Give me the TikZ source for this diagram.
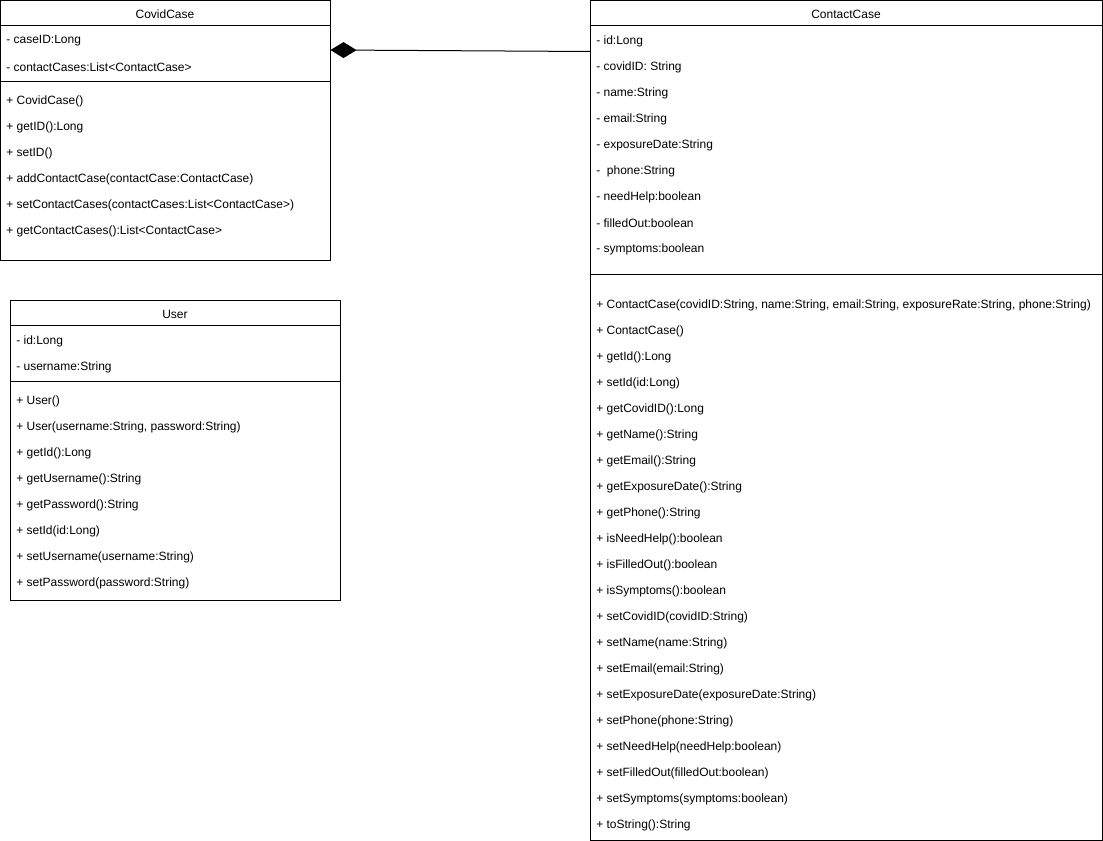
\documentclass[tikz,border=0pt]{standalone}
\usepackage{fontspec}
\setmainfont{Liberation Sans}
\usetikzlibrary{arrows.meta,calc}
\begin{document}
\begin{tikzpicture}[x=0.75pt,y=-0.75pt,
  box/.style={draw=black,line width=0.75pt,fill=white,inner sep=0pt,outer sep=0pt,anchor=north west},
  title/.style={font=\fontsize{9}{10}\selectfont,inner sep=0pt,anchor=center},
  member/.style={font=\fontsize{9}{10}\selectfont,inner sep=0pt,anchor=west},
  rule/.style={draw=black,line width=0.75pt},
  compose/.style={draw=black,line width=0.75pt,{Diamond[length=19.5pt,width=12pt]}-}]
\useasboundingbox (0,0) rectangle (1103,841);

% CovidCase class
\node[box,minimum width=330*0.75pt,minimum height=260*0.75pt] (covid) at (0.5,0.5) {};
\draw[rule] (0.5,26) -- (330.5,26);
\draw[rule] (0.5,82) -- (330.5,82);
\node[title] (covidT) at (165,14) {CovidCase};
\node[member] (covidA1) at (6,41) {- caseID:Long};
\node[member] (covidA2) at (6,67) {- contactCases:List<ContactCase>};
\foreach \t [count=\i from 0] in {%
  {+ CovidCase()},{+ getID():Long},{+ setID()},
  {+ addContactCase(contactCase:ContactCase)},
  {+ setContactCases(contactCases:List<ContactCase>)},
  {+ getContactCases():List<ContactCase>}}
  \node[member] (covidM\i) at (6,101+26*\i) {\t};

% User class
\node[box,minimum width=330*0.75pt,minimum height=300*0.75pt] (user) at (10.5,300.5) {};
\draw[rule] (10.5,326) -- (340.5,326);
\draw[rule] (10.5,382) -- (340.5,382);
\node[title] (userT) at (175,314) {User};
\node[member] (userA1) at (16,341) {- id:Long};
\node[member] (userA2) at (16,367) {- username:String};
\foreach \t [count=\i from 0] in {%
  {+ User()},{+ User(username:String, password:String)},
  {+ getId():Long},{+ getUsername():String},{+ getPassword():String},
  {+ setId(id:Long)},{+ setUsername(username:String)},
  {+ setPassword(password:String)}}
  \node[member] (userM\i) at (16,401+26*\i) {\t};

% ContactCase class
\node[box,minimum width=512*0.75pt,minimum height=840*0.75pt] (contact) at (590.5,0.5) {};
\draw[rule] (590.5,26) -- (1102.5,26);
\draw[rule] (590.5,275) -- (1102.5,275);
\node[title] (contactT) at (846,14) {ContactCase};
\foreach \t [count=\i from 0] in {%
  {- id:Long},{- covidID: String},{- name:String},{- email:String},
  {- exposureDate:String},{-\ \ phone:String},{- needHelp:boolean},
  {- filledOut:boolean},{- symptoms:boolean}}
  \node[member] (contactA\i) at (596,41+26*\i) {\t};
\foreach \t [count=\i from 0] in {%
  {+ ContactCase(covidID:String, name:String, email:String, exposureRate:String, phone:String)},
  {+ ContactCase()},{+ getId():Long},{+ setId(id:Long)},
  {+ getCovidID():Long},{+ getName():String},{+ getEmail():String},
  {+ getExposureDate():String},{+ getPhone():String},
  {+ isNeedHelp():boolean},{+ isFilledOut():boolean},{+ isSymptoms():boolean},
  {+ setCovidID(covidID:String)},{+ setName(name:String)},
  {+ setEmail(email:String)},{+ setExposureDate(exposureDate:String)},
  {+ setPhone(phone:String)},{+ setNeedHelp(needHelp:boolean)},
  {+ setFilledOut(filledOut:boolean)},{+ setSymptoms(symptoms:boolean)},
  {+ toString():String}}
  \node[member] (contactM\i) at (596,305+26*\i) {\t};

% composition: CovidCase owns its ContactCases
\draw[compose] ($(covid.north east)+(0,49.5)$) -- ($(contact.north west)+(0,51)$);
\end{tikzpicture}
\end{document}
